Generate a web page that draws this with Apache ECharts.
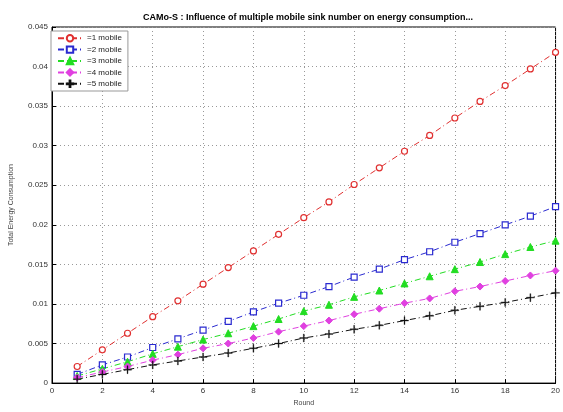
<!DOCTYPE html>
<html><head><meta charset="utf-8">
<script src="https://cdn.jsdelivr.net/npm/echarts@6/dist/echarts.min.js"></script>
<style>html,body{margin:0;padding:0;background:#fff}#c{width:563px;height:412px}</style>
</head><body><div id="c"></div>
<script>
const rounds = [1,2,3,4,5,6,7,8,9,10,11,12,13,14,15,16,17,18,19,20];
const names = ['=1 mobile','=2 mobile','=3 mobile','=4 mobile','=5 mobile'];
const s1 = [0.0021,0.0042,0.0063,0.0084,0.0104,0.0125,0.0146,0.0167,0.0188,0.0209,0.0229,0.0251,0.0272,0.0293,0.0313,0.0335,0.0356,0.0376,0.0397,0.0418];
const s2 = [0.0011,0.0023,0.0033,0.0045,0.0056,0.0067,0.0078,0.0090,0.0101,0.0111,0.0122,0.0134,0.0144,0.0156,0.0166,0.0178,0.0189,0.0200,0.0211,0.0223];
const s3 = [0.0009,0.0018,0.0027,0.0037,0.0046,0.0055,0.0063,0.0072,0.0081,0.0091,0.0099,0.0109,0.0117,0.0126,0.0135,0.0144,0.0153,0.0163,0.0172,0.0180];
const s4 = [0.0007,0.0014,0.0021,0.0029,0.0036,0.0044,0.0050,0.0057,0.0065,0.0072,0.0079,0.0087,0.0094,0.0101,0.0107,0.0116,0.0122,0.0129,0.0136,0.0142];
const s5 = [0.0005,0.0011,0.0017,0.0023,0.0028,0.0033,0.0038,0.0044,0.0050,0.0057,0.0062,0.0068,0.0073,0.0079,0.0085,0.0092,0.0097,0.0102,0.0108,0.0114];
const seriesData = [s1,s2,s3,s4,s5];
const colors = ['#e03030','#2a2ad0','#22dd22','#e040e0','#111111'];
const symbols = ['circle','rect','triangle','diamond','path://M4.4,0h1.2v4.4h4.4v1.2h-4.4v4.4h-1.2v-4.4h-4.4v-1.2h4.4z'];
const hollow = [true,true,false,false,false];
const sizes = [6,6,7,7,8];
const borders = [1.2,1.2,1,1,0.3];

const chart = echarts.init(document.getElementById('c'));
const font = 'Liberation Sans, Arial, sans-serif';
chart.setOption({
  animation:false,
  backgroundColor:'#fff',
  title:{text:'CAMo-S : Influence of multiple mobile sink number on energy consumption...',
    left:303, top:8, textAlign:'center',
    textStyle:{fontSize:9, fontWeight:'bold', color:'#000', fontFamily:font}},
  legend:{orient:'vertical', left:51, top:31, itemGap:3, itemWidth:24, itemHeight:8,
    backgroundColor:'#fff', borderColor:'#999', borderWidth:1, padding:[3,6,3,6],
    textStyle:{fontSize:8, color:'#222', fontFamily:font}, data:names},
  grid:{left:51, right:6, top:27, bottom:20, show:true, borderColor:'#000', borderWidth:1},
  xAxis:{type:'value', min:0, max:20, interval:2, name:'Round', nameLocation:'middle', nameGap:15,
    nameTextStyle:{fontSize:7, color:'#444', fontFamily:font},
    axisLine:{lineStyle:{color:'#000'}}, axisTick:{inside:true, length:4, lineStyle:{color:'#000'}},
    axisLabel:{fontSize:8, color:'#333', margin:4, fontFamily:font},
    splitLine:{show:true, lineStyle:{color:'#999', type:[1,3], width:1}}},
  yAxis:{type:'value', min:0, max:0.045, interval:0.005, name:'Total Energy Consumption', nameLocation:'middle', nameGap:37,
    nameTextStyle:{fontSize:7, color:'#444', fontFamily:font},
    axisLine:{lineStyle:{color:'#000'}}, axisTick:{inside:true, length:4, lineStyle:{color:'#000'}},
    axisLabel:{fontSize:8, color:'#333', margin:4, fontFamily:font, formatter:v=>String(+v.toFixed(3))},
    splitLine:{show:true, lineStyle:{color:'#999', type:[1,3], width:1}}},
  series: seriesData.map((d,i)=>({
    name:names[i], type:'line', data:rounds.map((r,j)=>[r,d[j]]),
    symbol:symbols[i], symbolSize:sizes[i], showSymbol:true,
    lineStyle:{color:colors[i], width:1, type:[6,3,1,3]},
    itemStyle:{color: hollow[i] ? '#fff' : colors[i], borderColor:colors[i], borderWidth:borders[i]}
  }))
});
</script></body></html>
